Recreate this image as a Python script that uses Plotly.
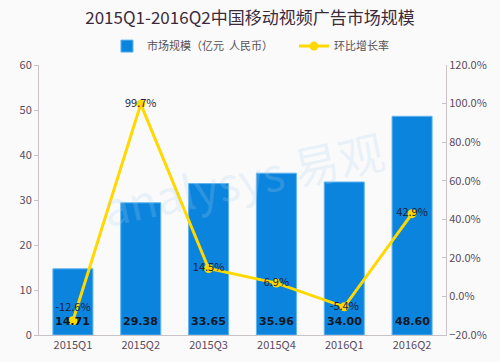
import plotly.graph_objects as go

categories = ["2015Q1", "2015Q2", "2015Q3", "2015Q4", "2016Q1", "2016Q2"]
market_size = [14.71, 29.38, 33.65, 35.96, 34.00, 48.60]
growth_rate = [-12.6, 99.7, 14.5, 6.9, -5.4, 42.9]
bar_name = "市场规模（亿元  人民币）"
line_name = "环比增长率"
title_text = "2015Q1-2016Q2中国移动视频广告市场规模"

FONT = "Noto Sans CJK SC, Microsoft YaHei, sans-serif"
TICK_COLOR = "#5a4a5a"
AXIS_COLOR = "#c9c2c9"

fig = go.Figure()

fig.add_trace(go.Bar(
    x=categories, y=market_size, name=bar_name,
    marker=dict(color="#0a84dc", line=dict(color="#5fb4f0", width=1)),
    width=0.59, yaxis="y",
))

fig.add_trace(go.Scatter(
    x=categories, y=growth_rate, name=line_name, yaxis="y2",
    mode="lines+markers+text",
    line=dict(color="#ffd800", width=3),
    marker=dict(color="#ffd800", size=9),
    text=[f"{v:.1f}%" for v in growth_rate],
    textposition=["top center"] + ["middle center"] * (len(growth_rate) - 1),
    textfont=dict(family=FONT, size=11, color="#1c1c3a"),
))

for c, v in zip(categories, market_size):
    fig.add_annotation(x=c, y=3.1, xref="x", yref="y", text=f"<b>{v:.2f}</b>",
                       showarrow=False,
                       font=dict(family="DejaVu Sans, Verdana, sans-serif", size=11, color="#101828"))

# faint watermark
fig.add_annotation(x=0.5, y=0.58, xref="paper", yref="paper", text="analysys 易观",
                   showarrow=False, textangle=-12,
                   font=dict(family=FONT, size=46, color="rgba(170,210,240,0.22)"))

fig.update_layout(
    width=500, height=362,
    margin=dict(l=39, r=54, t=65, b=27, autoexpand=False),
    paper_bgcolor="#fbfafb", plot_bgcolor="#fbfafb",
    font=dict(family=FONT, color=TICK_COLOR, size=11),
    title=dict(text=title_text, x=0.5, xanchor="center", y=0.95, yanchor="middle",
               font=dict(family=FONT, size=17, color="#3a2a3a")),
    legend=dict(orientation="h", x=0.167, xanchor="left", y=1.07, yanchor="middle",
                font=dict(family=FONT, size=11, color="#555055"),
                bgcolor="rgba(0,0,0,0)", itemwidth=30, entrywidthmode="pixels", entrywidth=142),
    bargap=0.41,
    xaxis=dict(showline=True, linecolor=AXIS_COLOR, linewidth=1, ticks="",
               tickfont=dict(size=11, color=TICK_COLOR), showgrid=False),
    yaxis=dict(range=[0, 60], dtick=10, showline=True, linecolor=AXIS_COLOR, linewidth=1,
               ticks="outside", ticklen=4, tickcolor=AXIS_COLOR, showgrid=False, zeroline=False,
               tickfont=dict(size=11, color=TICK_COLOR)),
    yaxis2=dict(range=[-20, 120], dtick=20, overlaying="y", side="right", showline=True,
                linecolor=AXIS_COLOR, linewidth=1, ticks="inside", ticklen=4, tickcolor=AXIS_COLOR,
                tickformat=".1f", ticksuffix="%", showgrid=False, zeroline=False,
                tickfont=dict(size=11, color=TICK_COLOR)),
)

fig.write_html("out.html", config={"displayModeBar": False},
               post_script="document.body.style.margin='0';")
